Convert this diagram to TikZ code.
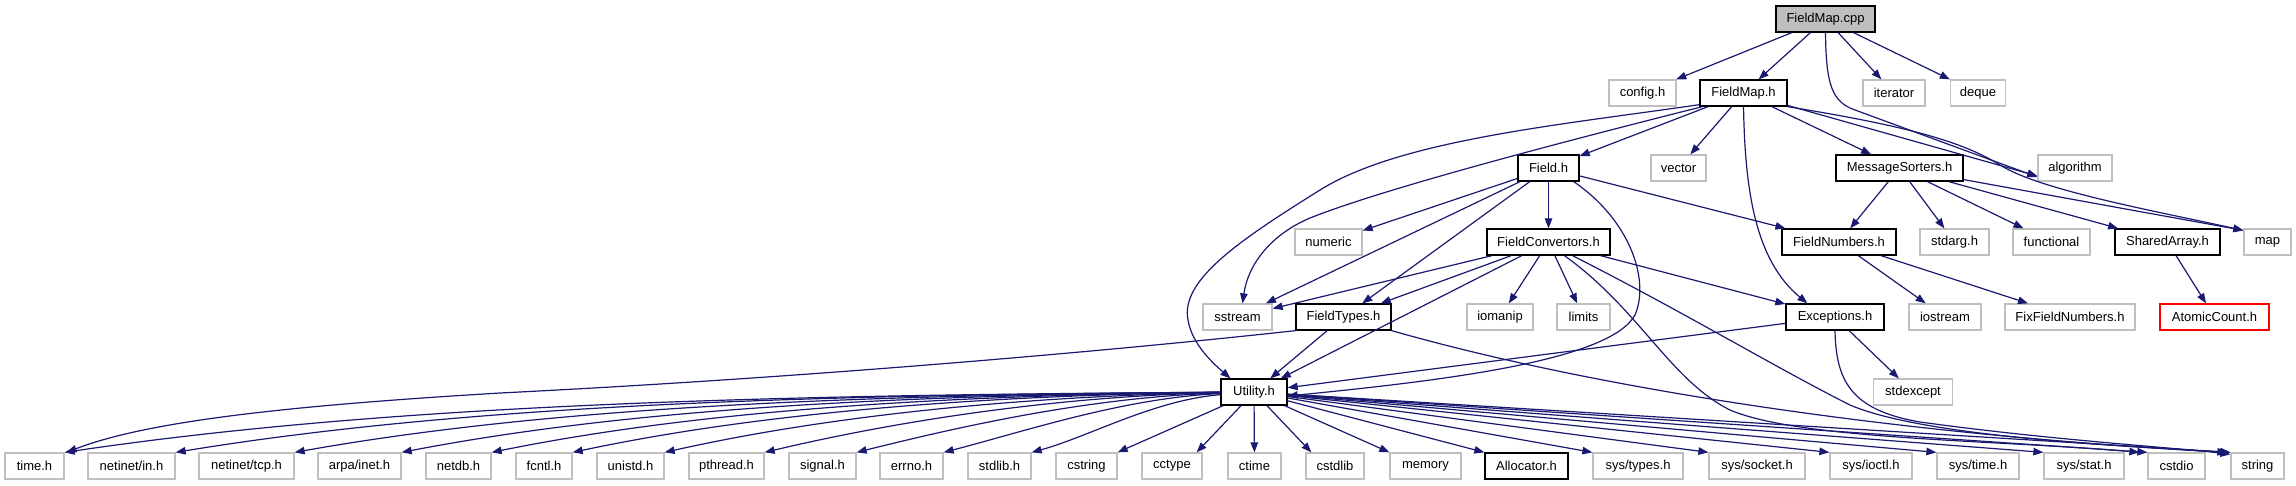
\documentclass[tikz,border=0pt]{standalone}
\usepackage{fontspec}
\setmainfont{Liberation Sans}
\usetikzlibrary{arrows.meta}
\definecolor{edgeblue}{HTML}{191970}
\definecolor{sysgray}{HTML}{BFBFBF}
\begin{document}
\begin{tikzpicture}[x=1pt,y=-1pt,
  box/.style={draw, line width=1.3pt, minimum height=26pt, inner sep=0pt, fill=white,
    font=\fontsize{13}{15}\selectfont, anchor=center},
  proj/.style={box, draw=black},
  sysh/.style={box, draw=sysgray},
  root/.style={box, draw=black, fill=sysgray},
  missing/.style={box, draw=red},
  edge/.style={draw=edgeblue, line width=1.2pt, -{Triangle[length=10pt,width=7.5pt]}}]
\useasboundingbox (0,0) rectangle (2296,485);
% row 0
\node[root, minimum width=99pt] (fmcpp) at (1825.5,19) {FieldMap.cpp};
% row 1
\node[sysh, minimum width=67pt] (config) at (1642.5,93) {config.h};
\node[proj, minimum width=87pt] (fmh) at (1743.5,93) {FieldMap.h};
\node[sysh, minimum width=62pt] (iterator) at (1894,93) {iterator};
\node[sysh, minimum width=55pt] (deque) at (1978,93) {deque};
% row 2
\node[proj, minimum width=61pt] (field) at (1548.5,168) {Field.h};
\node[sysh, minimum width=55pt] (vector) at (1678.5,168) {vector};
\node[proj, minimum width=127pt] (msgs) at (1899.5,168) {MessageSorters.h};
\node[sysh, minimum width=74pt] (algorithm) at (2075,168) {algorithm};
% row 3
\node[sysh, minimum width=67pt] (numeric) at (1328.5,242) {numeric};
\node[proj, minimum width=123pt] (fconv) at (1548.5,242) {FieldConvertors.h};
\node[proj, minimum width=114pt] (fnum) at (1839,242) {FieldNumbers.h};
\node[sysh, minimum width=69pt] (stdarg) at (1954.5,242) {stdarg.h};
\node[sysh, minimum width=77pt] (functional) at (2051.5,242) {functional};
\node[proj, minimum width=105pt] (sharr) at (2167.5,242) {SharedArray.h};
\node[sysh, minimum width=47pt] (map) at (2267.5,242) {map};
% row 4
\node[sysh, minimum width=69pt] (sstream) at (1237.5,317) {sstream};
\node[proj, minimum width=95pt] (ftypes) at (1343.5,317) {FieldTypes.h};
\node[sysh, minimum width=66pt] (iomanip) at (1500,317) {iomanip};
\node[sysh, minimum width=53pt] (limits) at (1583.5,317) {limits};
\node[proj, minimum width=98pt] (exc) at (1835,317) {Exceptions.h};
\node[sysh, minimum width=72pt] (iostream) at (1945,317) {iostream};
\node[sysh, minimum width=130pt] (fixfn) at (2070,317) {FixFieldNumbers.h};
\node[missing, minimum width=109pt] (atomic) at (2214.5,317) {AtomicCount.h};
% row 5
\node[proj, minimum width=66pt] (util) at (1254,392) {Utility.h};
\node[sysh, minimum width=79pt] (stdexcept) at (1913,392) {stdexcept};
% row 6
\node[sysh, minimum width=59pt] (timeh) at (34.5,466) {time.h};
\node[sysh, minimum width=87pt] (inh) at (131.5,466) {netinet/in.h};
\node[sysh, minimum width=95pt] (tcph) at (246.5,466) {netinet/tcp.h};
\node[sysh, minimum width=83pt] (ineth) at (359.5,466) {arpa/inet.h};
\node[sysh, minimum width=65pt] (netdb) at (458.5,466) {netdb.h};
\node[sysh, minimum width=56pt] (fcntl) at (544,466) {fcntl.h};
\node[sysh, minimum width=67pt] (unistd) at (630.5,466) {unistd.h};
\node[sysh, minimum width=75pt] (pthread) at (726.5,466) {pthread.h};
\node[sysh, minimum width=67pt] (signal) at (822.5,466) {signal.h};
\node[sysh, minimum width=63pt] (errno) at (911.5,466) {errno.h};
\node[sysh, minimum width=63pt] (stdlibh) at (999.5,466) {stdlib.h};
\node[sysh, minimum width=61pt] (cstring) at (1086.5,466) {cstring};
\node[sysh, minimum width=60pt] (cctype) at (1172,466) {cctype};
\node[sysh, minimum width=53pt] (ctime) at (1254.5,466) {ctime};
\node[sysh, minimum width=58pt] (cstdlib) at (1335,466) {cstdlib};
\node[sysh, minimum width=71pt] (memory) at (1425.5,466) {memory};
\node[proj, minimum width=83pt] (alloc) at (1526.5,466) {Allocator.h};
\node[sysh, minimum width=90pt] (systypes) at (1638,466) {sys/types.h};
\node[sysh, minimum width=96pt] (syssocket) at (1757,466) {sys/socket.h};
\node[sysh, minimum width=82pt] (sysioctl) at (1871,466) {sys/ioctl.h};
\node[sysh, minimum width=82pt] (systime) at (1978,466) {sys/time.h};
\node[sysh, minimum width=80pt] (sysstat) at (2084,466) {sys/stat.h};
\node[sysh, minimum width=57pt] (cstdio) at (2176.5,466) {cstdio};
\node[sysh, minimum width=53pt] (string) at (2257.5,466) {string};

% FieldMap.cpp
\draw[edge] (fmcpp) -- (config);
\draw[edge] (fmcpp) -- (fmh);
\draw[edge] (fmcpp) -- (iterator);
\draw[edge] (fmcpp) -- (deque);
\draw[edge] (fmcpp.south) .. controls (1826,85) and (1832,102) .. (1855,110) -- ([yshift=-9]algorithm.west);
% FieldMap.h
\draw[edge] (fmh) -- (field);
\draw[edge] (fmh) -- (vector);
\draw[edge] (fmh) -- (msgs);
\draw[edge] (fmh) -- ([yshift=-8]algorithm.west);
\draw[edge] (fmh.south east) .. controls (1900,125) and (1960,140) .. (2000,165) .. controls (2040,190) and (2150,210) .. ([yshift=-2]map.north west);
\draw[edge] ([yshift=2]fmh.south west) .. controls (1560,125) and (1400,140) .. (1320,190) .. controls (1240,240) and (1180,280) .. (1188,320) .. controls (1192,345) and (1215,365) .. ([xshift=10]util.north west);
\draw[edge] ([xshift=3]fmh.south west) .. controls (1550,145) and (1380,190) .. (1310,218) .. controls (1270,235) and (1248,265) .. ([xshift=5]sstream.north);
\draw[edge] (fmh.south) .. controls (1745,190) and (1755,260) .. ([xshift=22]exc.north west);
% Field.h
\draw[edge] (field) -- (numeric);
\draw[edge] (field) -- (sstream);
\draw[edge] (field) -- (ftypes);
\draw[edge] (field) -- (fconv);
\draw[edge] (field) -- (fnum);
\draw[edge] ([xshift=-6]field.south east) .. controls (1630,220) and (1650,280) .. (1635,315) .. controls (1610,360) and (1450,380) .. ([yshift=-4]util.east);
% FieldConvertors.h
\draw[edge] (fconv) -- (sstream);
\draw[edge] (fconv) -- (ftypes);
\draw[edge] (fconv) -- (util);
\draw[edge] (fconv) -- (iomanip);
\draw[edge] (fconv) -- (limits);
\draw[edge] (fconv) -- (exc);
\draw[edge] ([xshift=16]fconv.south) .. controls (1640,310) and (1670,380) .. (1730,410) .. controls (1800,440) and (2000,440) .. ([xshift=-8]cstdio.north west);
\draw[edge] ([xshift=24]fconv.south) .. controls (1680,310) and (1780,370) .. (1850,405) .. controls (1920,435) and (2100,445) .. ([xshift=-3]string.north west);
% MessageSorters.h
\draw[edge] (msgs) -- (fnum);
\draw[edge] (msgs) -- (stdarg);
\draw[edge] (msgs) -- (functional);
\draw[edge] (msgs) -- (sharr);
\draw[edge] (msgs) -- ([yshift=-2]map.north west);
% FieldNumbers.h, SharedArray.h
\draw[edge] (fnum) -- (iostream);
\draw[edge] (fnum) -- (fixfn);
\draw[edge] (sharr) -- (atomic);
% Exceptions.h
\draw[edge] (exc) -- (stdexcept);
\draw[edge] (exc) -- (util);
\draw[edge] (exc.south) .. controls (1836,380) and (1850,410) .. (1920,422) .. controls (2050,440) and (2180,448) .. ([yshift=-2]string.north west);
% FieldTypes.h
\draw[edge] (ftypes) -- (util);
\draw[edge] (ftypes.south west) .. controls (1100,352) and (800,378) .. (500,393) .. controls (300,405) and (150,420) .. ([xshift=2]timeh.north east);
\draw[edge] (ftypes.south east) .. controls (1600,390) and (1900,435) .. (string.north west);
% Utility.h
\draw[edge] (util) .. controls (816,395) and (411,401) .. (timeh.north east);
\draw[edge] (util) .. controls (855,395) and (489,401) .. (inh.north east);
\draw[edge] (util) .. controls (897,395) and (572,403) .. (tcph.north east);
\draw[edge] (util) .. controls (934,395) and (647,405) .. (ineth.north east);
\draw[edge] (util) .. controls (965,395) and (710,408) .. (netdb.north east);
\draw[edge] (util) .. controls (994,395) and (767,411) .. (fcntl.north east);
\draw[edge] (util) .. controls (1026,396) and (831,415) .. (unistd.north east);
\draw[edge] (util) .. controls (1061,396) and (901,420) .. (pthread.north east);
\draw[edge] (util) .. controls (1093,397) and (966,425) .. (signal.north east);
\draw[edge] (util) .. controls (1124,398) and (1026,431) .. (errno.north east);
\draw[edge] (util) .. controls (1154,400) and (1088,437) .. (stdlibh.north east);
\draw[edge] (util) -- (cstring.north east);
\draw[edge] (util) -- ([xshift=-6]cctype.north east);
\draw[edge] (util) -- (ctime);
\draw[edge] (util) -- ([xshift=6]cstdlib.north west);
\draw[edge] (util) -- (memory.north west);
\draw[edge] (util) -- (alloc.north west);
\draw[edge] (util) -- (systypes.north west);
\draw[edge] (util) -- (syssocket.north west);
\draw[edge] (util) -- (sysioctl.north west);
\draw[edge] (util) -- (systime.north west);
\draw[edge] (util) -- (sysstat.north west);
\draw[edge] (util) -- (cstdio.north west);
\draw[edge] (util) -- (string.north west);
\end{tikzpicture}
\end{document}
